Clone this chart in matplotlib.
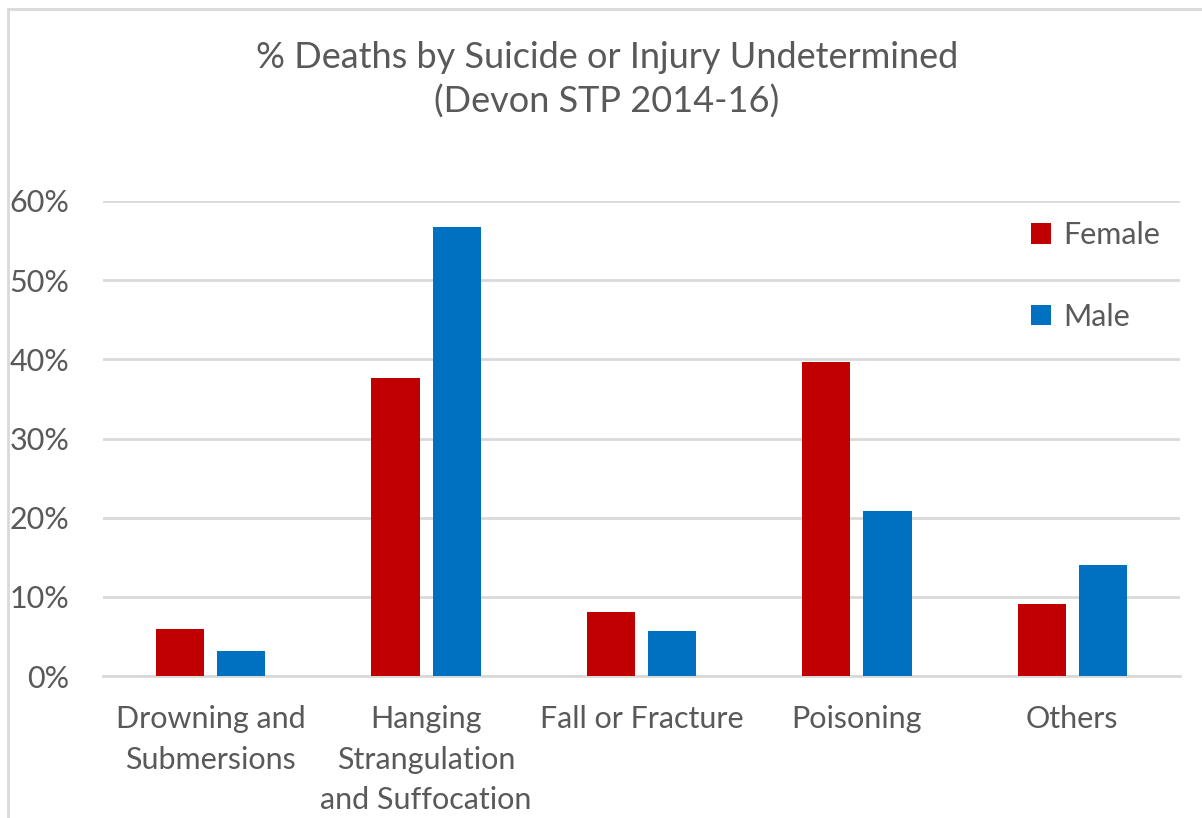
import numpy as np
import matplotlib
matplotlib.use("Agg")
import matplotlib.pyplot as plt
from matplotlib.lines import Line2D
from matplotlib.ticker import FuncFormatter

categories = ["Drowning and\nSubmersions", "Hanging\nStrangulation\nand Suffocation",
              "Fall or Fracture", "Poisoning", "Others"]
female = [0.060, 0.376, 0.081, 0.397, 0.091]
male = [0.031, 0.567, 0.057, 0.208, 0.140]
yticks = [0.0, 0.1, 0.2, 0.3, 0.4, 0.5, 0.6]

RED = "#C00000"
BLUE = "#0070C0"
TXT = "#595959"
GRID = "#D9D9D9"

plt.rcParams['font.family'] = ['Lato', 'DejaVu Sans']

fig = plt.figure(figsize=(12.02, 8.18), dpi=100)
ax = fig.add_axes([103 / 1202, 1 - 676 / 818, 1077 / 1202, 475 / 818])

x = np.arange(len(categories))
w = 0.223
ax.bar(x - 0.142, female, w, color=RED, label="Female", zorder=3)
ax.bar(x + 0.142, male, w, color=BLUE, label="Male", zorder=3)

ax.set_xlim(-0.5, len(categories) - 0.5)
ax.set_ylim(0, 0.6)
ax.set_yticks(yticks)
ax.yaxis.set_major_formatter(FuncFormatter(lambda v, p: f"{v * 100:.0f}%"))
ax.yaxis.grid(True, color=GRID, linewidth=2, zorder=0)
ax.set_xticks(x)
ax.set_xticklabels(categories, linespacing=1.55)
ax.tick_params(axis='y', length=0, pad=24, labelsize=22, labelcolor=TXT)
ax.tick_params(axis='x', length=0, pad=21, labelsize=22, labelcolor=TXT)
for s in ["top", "right", "left"]:
    ax.spines[s].set_visible(False)
ax.spines["bottom"].set_color(GRID)
ax.spines["bottom"].set_linewidth(2)
ax.spines["bottom"].set_zorder(0)

leg = ax.legend(loc="upper right", bbox_to_anchor=(1.007, 1.015), frameon=False,
                fontsize=22, labelcolor=TXT, handlelength=0.65, handleheight=0.65,
                handletextpad=0.4, labelspacing=1.75)

fig.text(607 / 1202, 1 - 80 / 818, "% Deaths by Suicide or Injury Undetermined\n(Devon STP 2014-16)",
         ha="center", va="center", fontsize=26, color=TXT, linespacing=1.38)

# chart frame edges visible in the crop
fig.add_artist(Line2D([8 / 1202, 8 / 1202], [0, 1 - 9 / 818], transform=fig.transFigure,
                      color=GRID, linewidth=2))
fig.add_artist(Line2D([8 / 1202, 1], [1 - 9 / 818, 1 - 9 / 818], transform=fig.transFigure,
                      color=GRID, linewidth=2))

fig.savefig("out.png", dpi=100, facecolor="white")
